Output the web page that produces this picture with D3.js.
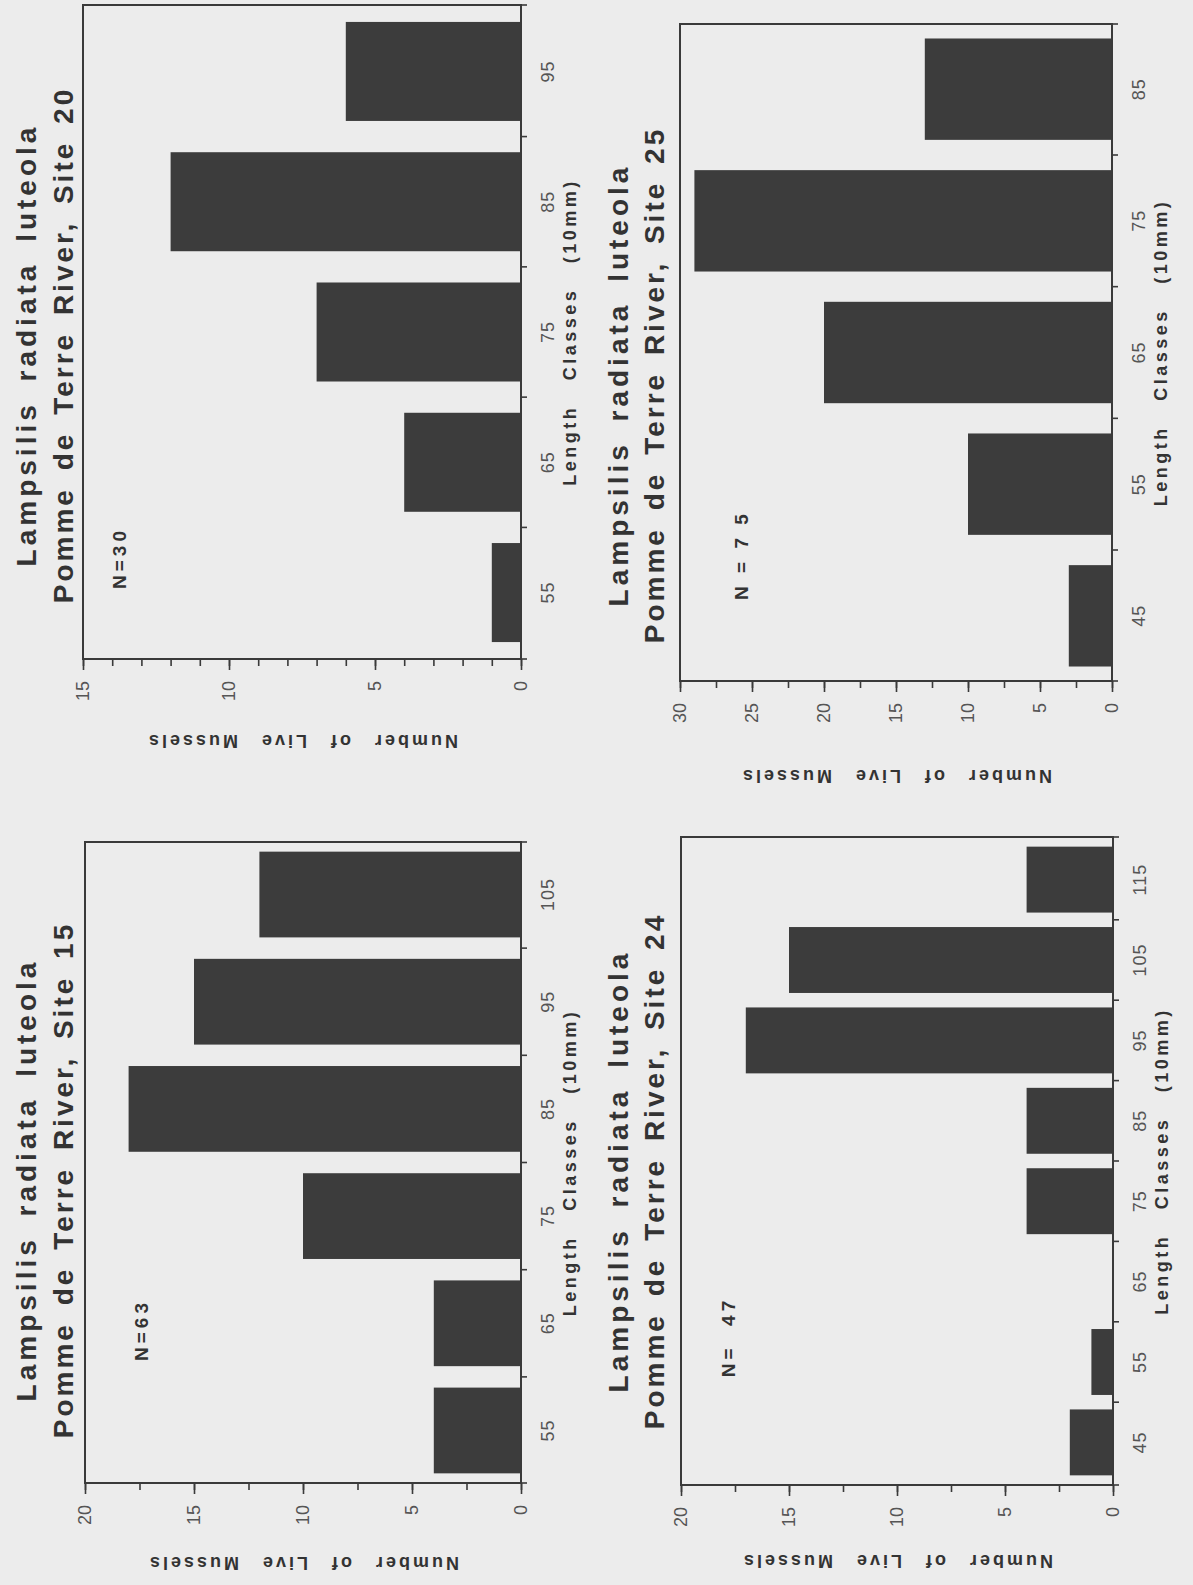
<!DOCTYPE html>
<html>
<head>
<meta charset="utf-8">
<script src="https://cdn.jsdelivr.net/npm/d3@7"></script>
<style>
  body { margin: 0; background: #ececec; }
  svg { display: block; }
  text { font-family: "Liberation Sans", Arial, Helvetica, sans-serif; fill: #333; }
</style>
</head>
<body>
<div id="chart"></div>
<script>
// length classes (10 mm) and number of live mussels, one pair per site
const site15Classes = ["55", "65", "75", "85", "95", "105"];
const site15Counts = [4, 4, 10, 18, 15, 12];
const site20Classes = ["55", "65", "75", "85", "95"];
const site20Counts = [1, 4, 7, 12, 6];
const site24Classes = ["45", "55", "65", "75", "85", "95", "105", "115"];
const site24Counts = [2, 1, 0, 4, 4, 17, 15, 4];
const site25Classes = ["45", "55", "65", "75", "85"];
const site25Counts = [3, 10, 20, 29, 13];

// value axis tick labels
const ticks15 = [0, 5, 10, 15];
const ticks20 = [0, 5, 10, 15, 20];
const ticks30 = [0, 5, 10, 15, 20, 25, 30];

const W = 1193, H = 1585;

const svg = d3.select("#chart")
              .append("svg")
              .attr("width", W)
              .attr("height", H);

svg.append("rect")
   .attr("width", W)
   .attr("height", H)
   .attr("fill", "#ececec");

// the scanned page is turned a quarter turn, so draw it upright and rotate
const page = svg.append("g")
                .attr("transform", `translate(0, ${H}) rotate(-90)`);

const panels = [
  { site: "15", classes: site15Classes, counts: site15Counts, ticks: ticks20, max: 20, minor: 2.5,
    box: { left: 102, right: 743, top: 85, bottom: 521 }, padIn: 0.2, padOut: 0.09,
    titleX: 405, titleY: [36, 73], nText: "N=63", nX: 255, nY: 148, axisOff: 80 },
  { site: "20", classes: site20Classes, counts: site20Counts, ticks: ticks15, max: 15, minor: 1,
    box: { left: 926, right: 1580, top: 83, bottom: 521 }, padIn: 0.24, padOut: 0.13,
    titleX: 1240, titleY: [36, 73], nText: "N=30", nX: 1027, nY: 126, axisOff: 82 },
  { site: "24", classes: site24Classes, counts: site24Counts, ticks: ticks20, max: 20, minor: 2.5,
    box: { left: 100, right: 748, top: 681, bottom: 1113 }, padIn: 0.18, padOut: 0.12,
    titleX: 414, titleY: [628, 664], nText: "N=  47", nX: 248, nY: 735, axisOff: 76 },
  { site: "25", classes: site25Classes, counts: site25Counts, ticks: ticks30, max: 30, minor: 2.5,
    box: { left: 904, right: 1561, top: 680, bottom: 1112 }, padIn: 0.23, padOut: 0.11,
    titleX: 1200, titleY: [628, 664], nText: "N = 7 5", nX: 1030, nY: 748, axisOff: 95 }
];

panels.forEach(drawPanel);

function drawPanel(p) {
    const b = p.box;
    const g = page.append("g").attr("class", `site-${p.site}`);

    const x = d3.scaleBand()
                .domain(p.classes)
                .range([b.left, b.right])
                .paddingInner(p.padIn)
                .paddingOuter(p.padOut);

    const y = d3.scaleLinear()
                .domain([0, p.max])
                .range([b.bottom, b.top]);

    const data = p.classes.map((c, i) => ({ cls: c, count: p.counts[i] }));

    // bars
    g.selectAll(".bar")
     .data(data)
     .enter()
     .append("rect")
     .attr("class", "bar")
     .attr("x", d => x(d.cls))
     .attr("y", d => y(d.count))
     .attr("width", x.bandwidth())
     .attr("height", d => y(0) - y(d.count))
     .attr("fill", "#3c3c3c");

    // frame
    g.append("rect")
     .attr("x", b.left)
     .attr("y", b.top)
     .attr("width", b.right - b.left)
     .attr("height", b.bottom - b.top)
     .attr("fill", "none")
     .attr("stroke", "#3a3a3a")
     .attr("stroke-width", 2);

    // value axis, major + minor ticks
    const minorTicks = d3.range(0, p.max + 0.001, p.minor);
    const minorAxis = g.append("g")
                       .attr("transform", `translate(${b.left}, 0)`)
                       .call(d3.axisLeft(y).tickValues(minorTicks).tickSize(7).tickFormat(""));
    const majorAxis = g.append("g")
                       .attr("transform", `translate(${b.left}, 0)`)
                       .call(d3.axisLeft(y).tickValues(p.ticks).tickSize(11).tickPadding(11));
    [minorAxis, majorAxis].forEach(a => {
        a.select(".domain").remove();
        a.selectAll("line").attr("stroke", "#3a3a3a").attr("stroke-width", 1.6);
    });
    majorAxis.selectAll("text")
             .style("font-size", "18px")
             .style("fill", "#555");

    // class axis: labels under bars, short ticks at the band edges
    const classAxis = g.append("g")
                       .attr("transform", `translate(0, ${b.bottom})`)
                       .call(d3.axisBottom(x).tickSize(0).tickPadding(20));
    classAxis.select(".domain").remove();
    classAxis.selectAll("text")
             .style("font-size", "18px")
             .style("fill", "#555")
             .style("letter-spacing", "1px");

    const step = x.step();
    const edges = [b.left].concat(p.classes.slice(0, -1).map(c => x(c) + x.bandwidth() + (step - x.bandwidth()) / 2), [b.right]);
    g.selectAll(".edge-tick")
     .data(edges)
     .enter()
     .append("line")
     .attr("x1", d => d)
     .attr("x2", d => d)
     .attr("y1", b.bottom)
     .attr("y2", b.bottom + 6)
     .attr("stroke", "#3a3a3a")
     .attr("stroke-width", 1.6);

    // axis titles
    g.append("text")
     .attr("x", (b.left + b.right) / 2)
     .attr("y", b.bottom + 55)
     .attr("text-anchor", "middle")
     .style("font-size", "18px")
     .style("font-weight", "bold")
     .style("letter-spacing", "3.5px")
     .style("word-spacing", "16px")
     .text("Length Classes (10mm)");

    g.append("text")
     .attr("transform", `translate(${b.left - p.axisOff}, ${(b.top + b.bottom) / 2}) rotate(-90)`)
     .attr("text-anchor", "middle")
     .attr("dominant-baseline", "central")
     .style("font-size", "18px")
     .style("font-weight", "bold")
     .style("letter-spacing", "3px")
     .style("word-spacing", "13px")
     .text("Number of Live Mussels");

    // chart title, two lines
    const titleLines = [
      { text: "Lampsilis radiata luteola", ls: 4, ws: 8 },
      { text: `Pomme de Terre River, Site ${p.site}`, ls: 3, ws: 6 }
    ];
    g.selectAll(".title")
     .data(titleLines)
     .enter()
     .append("text")
     .attr("class", "title")
     .attr("x", p.titleX)
     .attr("y", (d, i) => p.titleY[i])
     .attr("text-anchor", "middle")
     .style("font-size", "28px")
     .style("font-weight", "bold")
     .style("letter-spacing", d => `${d.ls}px`)
     .style("word-spacing", d => `${d.ws}px`)
     .text(d => d.text);

    // sample size
    g.append("text")
     .attr("x", p.nX)
     .attr("y", p.nY)
     .attr("text-anchor", "middle")
     .style("font-size", "19px")
     .style("font-weight", "bold")
     .style("letter-spacing", "4px")
     .style("white-space", "pre")
     .text(p.nText);
}
</script>
</body>
</html>
